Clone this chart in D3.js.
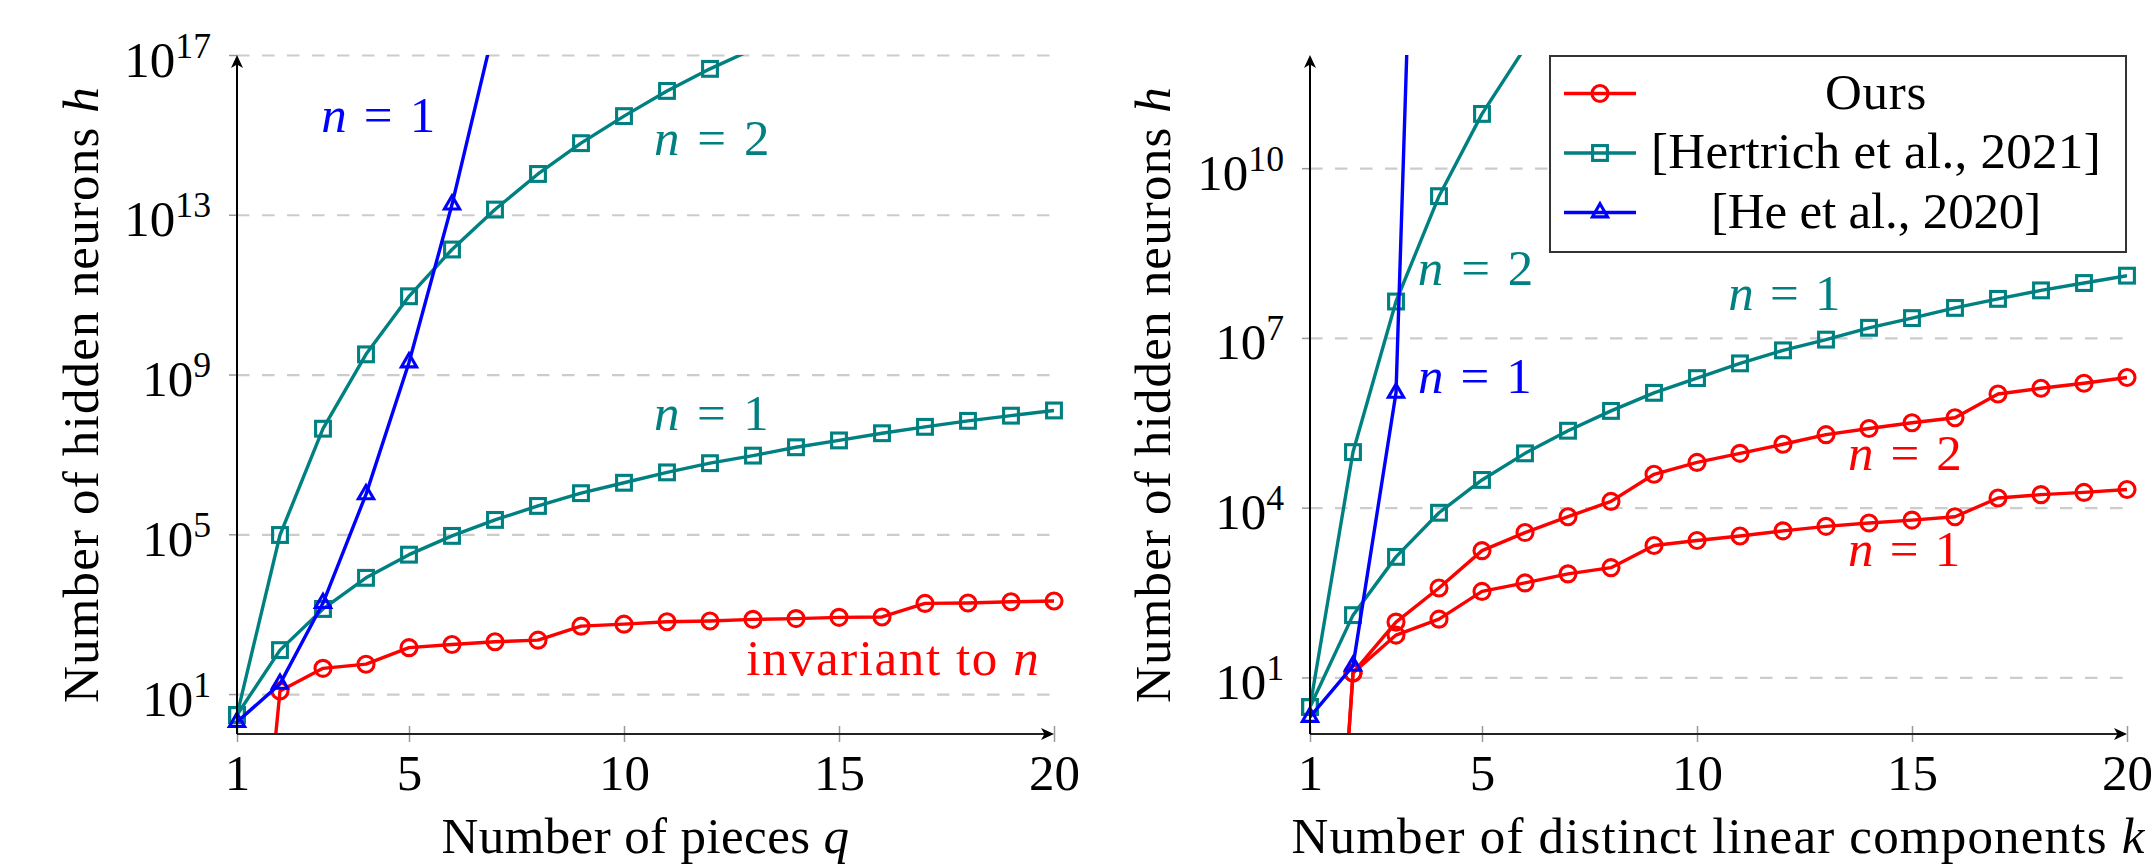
<!DOCTYPE html>
<html>
<head>
<meta charset="utf-8">
<script src="https://cdnjs.cloudflare.com/ajax/libs/d3/7.8.5/d3.min.js"></script>
<style>
  body { margin: 0; background: #fff; }
  svg text { font-family: "Liberation Serif", "Times New Roman", serif; }
</style>
</head>
<body>
<svg width="2151" height="866"></svg>
<script>
var kValues = [1, 2, 3, 4, 5, 6, 7, 8, 9, 10, 11, 12, 13, 14, 15, 16, 17, 18, 19, 20];
var xTicks = [1, 5, 10, 15, 20];
var yTicksQ = [1e1, 1e5, 1e9, 1e13, 1e17];
var yTicksK = [1e1, 1e4, 1e7, 1e10];

// Ours: left plot (pieces q, invariant to n); first value ~0 so the line drops off the axis
var oursQ = [1e-10, 12, 44, 56, 145, 174, 204, 224, 501, 562, 646, 676, 741, 776, 832, 851, 1860, 1900, 2040, 2140];
// Ours: right plot (distinct linear components k)
var oursK1 = [1e-10, 12, 56, 107, 331, 468, 676, 871, 2140, 2630, 3160, 3890, 4680, 5370, 6030, 6920, 14800, 17000, 18600, 20900];
var oursK2 = [1e-10, 12, 95, 380, 1740, 3630, 6920, 12900, 38900, 63100, 91200, 1.32e5, 1.95e5, 2.51e5, 3.16e5, 3.89e5, 1.02e6, 1.29e6, 1.58e6, 2.0e6];
// Hertrich et al., 2021 (same curves in both plots)
var hertrichN1 = [3, 126, 1350, 8130, 30900, 91200, 2.29e5, 5.13e5, 1.07e6, 1.95e6, 3.55e6, 6.03e6, 9.33e6, 1.51e7, 2.24e7, 3.39e7, 4.9e7, 6.92e7, 9.33e7, 1.26e8];
var hertrichN2 = [3, 9.6e4, 4.4e7, 3.2e9, 9.1e10, 1.35e12, 1.35e13, 1.05e14, 6.2e14, 2.95e15, 1.26e16, 4.5e16, 1.4e17];
// He et al., 2020
var heQ = [2, 18, 1900, 1e6, 2e9, 1.8e13, 6e17];
var heK = [2, 16, 1.07e6, 1e30];

var red = "#ff0000", teal = "#008080", blue = "#0000ff";
var FS = 51;

var legendItems = [
  {name: "Ours", color: red, mark: "circle", w: 102},
  {name: "[Hertrich et al., 2021]", color: teal, mark: "square", w: 450},
  {name: "[He et al., 2020]", color: blue, mark: "triangle", w: 330}
];

var panels = [
  {
    id: "q", left: 237, right: 1054, top: 55, bottom: 734, yMax: 1e17, yTicks: yTicksQ,
    yLabelX: 98, xLabel: [["Number of pieces ", 0], ["q", 1]], xLabelW: 408,
    series: [
      {values: oursQ, color: red, mark: "circle"},
      {values: hertrichN1, color: teal, mark: "square"},
      {values: hertrichN2, color: teal, mark: "square"},
      {values: heQ, color: blue, mark: "triangle"}
    ],
    notes: [
      {x: 4.31, e: 15.07, parts: [["n", 1], [" = 1", 0]], color: blue, w: 116},
      {x: 12.07, e: 14.49, parts: [["n", 1], [" = 2", 0]], color: teal, w: 118},
      {x: 12.06, e: 7.61, parts: [["n", 1], [" = 1", 0]], color: teal, w: 117},
      {x: 16.26, e: 1.47, parts: [["invariant to ", 0], ["n", 1]], color: red, w: 294}
    ]
  },
  {
    id: "k", left: 1310, right: 2127, top: 55, bottom: 734, yMax: 1e12, yTicks: yTicksK,
    yLabelX: 1170, xLabel: [["Number of distinct linear components ", 0], ["k", 1]], xLabelW: 854,
    legend: true,
    series: [
      {values: oursK1, color: red, mark: "circle"},
      {values: oursK2, color: red, mark: "circle"},
      {values: hertrichN1, color: teal, mark: "square"},
      {values: hertrichN2, color: teal, mark: "square"},
      {values: heK, color: blue, mark: "triangle"}
    ],
    notes: [
      {x: 4.88, e: 7.93, parts: [["n", 1], [" = 2", 0]], color: teal, w: 118},
      {x: 4.86, e: 6.03, parts: [["n", 1], [" = 1", 0]], color: blue, w: 116},
      {x: 12.05, e: 7.50, parts: [["n", 1], [" = 1", 0]], color: teal, w: 114},
      {x: 14.86, e: 4.67, parts: [["n", 1], [" = 2", 0]], color: red, w: 116},
      {x: 14.84, e: 2.97, parts: [["n", 1], [" = 1", 0]], color: red, w: 114}
    ]
  }
];

var svg = d3.select("svg");
var defs = svg.append("defs");

function drawMark(g, type, color) {
  g.attr("fill", "none").attr("stroke", color).attr("stroke-width", 3.1);
  if (type === "circle") {
    g.append("circle").attr("r", 8);
  } else if (type === "square") {
    g.append("rect").attr("x", -7.4).attr("y", -7.4).attr("width", 14.8).attr("height", 14.8);
  } else {
    var r = 8.8;
    g.append("path").attr("d", "M0," + (-r) + "L" + (r * 0.866) + "," + (r / 2) + "L" + (-r * 0.866) + "," + (r / 2) + "Z");
  }
}

function richText(t, parts) {
  parts.forEach(function(p) {
    t.append("tspan").attr("font-style", p[1] ? "italic" : null).text(p[0]);
  });
  return t;
}

function fitWidth(t, target) {
  var w = t.node().getComputedTextLength();
  var n = t.text().length;
  t.attr("letter-spacing", ((target - w) / n).toFixed(2));
}

function arrow(g, x, y, angle) {
  g.append("path")
    .attr("d", "M0,0L-13,-6L-9.5,0L-13,6Z")
    .attr("fill", "#000")
    .attr("transform", "translate(" + x + "," + y + ") rotate(" + angle + ")");
}

panels.forEach(function(p) {
  var x = d3.scaleLinear().domain([1, 20]).range([p.left, p.right]);
  var y = d3.scaleLog().domain([1, p.yMax]).range([p.bottom, p.top]);
  var innerW = p.right - p.left;
  var g = svg.append("g");

  // dashed grid
  var grid = g.append("g").attr("transform", "translate(" + p.left + ",0)")
    .call(d3.axisLeft(y).tickValues(p.yTicks).tickSize(-innerW).tickFormat(""));
  grid.select(".domain").remove();
  grid.selectAll("line").attr("stroke", "#cccccc").attr("stroke-width", 2.2).attr("stroke-dasharray", "12.5 12.5");

  // y ticks with 10^k labels
  var ya = g.append("g").attr("transform", "translate(" + p.left + ",0)")
    .call(d3.axisLeft(y).tickValues(p.yTicks).tickSize(8).tickPadding(18).tickFormat(""));
  ya.attr("font-size", null).attr("font-family", null);
  ya.select(".domain").remove();
  ya.selectAll(".tick line").attr("stroke", "#999").attr("stroke-width", 1.5);
  ya.selectAll(".tick text")
    .attr("dy", null).attr("y", 21).attr("fill", "#000").attr("font-size", FS)
    .each(function(d) {
      var t = d3.select(this);
      t.append("tspan").text("10");
      t.append("tspan").attr("font-size", FS * 0.7).attr("dy", -19).text(Math.round(Math.log10(d)));
    });

  // x ticks
  var xa = g.append("g").attr("transform", "translate(0," + p.bottom + ")")
    .call(d3.axisBottom(x).tickValues(xTicks).tickSize(8).tickFormat(d3.format("d")));
  xa.attr("font-size", null).attr("font-family", null);
  xa.select(".domain").remove();
  xa.selectAll(".tick line").attr("y1", -8).attr("stroke", "#999").attr("stroke-width", 1.5);
  xa.selectAll(".tick text").attr("y", 56).attr("dy", null).attr("fill", "#000").attr("font-size", FS);

  // series
  var clipId = "clip-" + p.id;
  defs.append("clipPath").attr("id", clipId).append("rect")
    .attr("x", p.left).attr("y", p.top).attr("width", innerW).attr("height", p.bottom - p.top);

  var line = d3.line().x(function(d) { return x(d[0]); }).y(function(d) { return y(d[1]); });

  p.series.forEach(function(s) {
    var pts = s.values.map(function(v, i) { return [kValues[i], v]; });
    g.append("path").datum(pts)
      .attr("clip-path", "url(#" + clipId + ")")
      .attr("fill", "none").attr("stroke", s.color).attr("stroke-width", 3.4)
      .attr("stroke-linejoin", "round")
      .attr("d", line);
    g.append("g").selectAll("g")
      .data(pts.filter(function(d) { return d[1] >= 1 && d[1] <= p.yMax * 1.01; }))
      .join("g")
      .attr("transform", function(d) { return "translate(" + x(d[0]) + "," + y(d[1]) + ")"; })
      .each(function() { drawMark(d3.select(this), s.mark, s.color); });
  });

  // axis lines with arrows
  g.append("line").attr("x1", p.left).attr("x2", p.right - 8).attr("y1", p.bottom).attr("y2", p.bottom)
    .attr("stroke", "#222").attr("stroke-width", 2.2);
  arrow(g, p.right, p.bottom, 0);
  g.append("line").attr("x1", p.left).attr("x2", p.left).attr("y1", p.bottom).attr("y2", p.top + 8)
    .attr("stroke", "#000").attr("stroke-width", 2);
  arrow(g, p.left, p.top, -90);

  // annotations
  p.notes.forEach(function(n) {
    var t = g.append("text")
      .attr("x", x(n.x)).attr("y", y(Math.pow(10, n.e)))
      .attr("text-anchor", "middle").attr("fill", n.color).attr("font-size", FS);
    richText(t, n.parts);
    fitWidth(t, n.w);
  });

  // axis labels
  var xl = g.append("text")
    .attr("x", (p.left + p.right) / 2).attr("y", 853)
    .attr("text-anchor", "middle").attr("font-size", FS);
  richText(xl, p.xLabel);
  fitWidth(xl, p.xLabelW);

  var yl = g.append("text")
    .attr("transform", "translate(" + p.yLabelX + "," + ((p.top + p.bottom) / 2) + ") rotate(-90)")
    .attr("text-anchor", "middle").attr("font-size", FS);
  richText(yl, [["Number of hidden neurons ", 0], ["h", 1]]);
  fitWidth(yl, 617);

  // legend
  if (p.legend) {
    var lw = 576, lh = 196;
    var lg = g.append("g").attr("transform", "translate(" + (p.right - 1 - lw) + "," + (p.top + 1) + ")");
    lg.append("rect").attr("width", lw).attr("height", lh)
      .attr("fill", "#fff").attr("stroke", "#333").attr("stroke-width", 2);
    legendItems.forEach(function(it, i) {
      var row = lg.append("g").attr("transform", "translate(0," + (37.5 + i * 59.5) + ")");
      row.append("line").attr("x1", 14).attr("x2", 86)
        .attr("stroke", it.color).attr("stroke-width", 3.4);
      drawMark(row.append("g").attr("transform", "translate(50,0)"), it.mark, it.color);
      var t = row.append("text").attr("x", 326).attr("y", 15)
        .attr("text-anchor", "middle").attr("font-size", FS).text(it.name);
      fitWidth(t, it.w);
    });
  }
});
</script>
</body>
</html>
